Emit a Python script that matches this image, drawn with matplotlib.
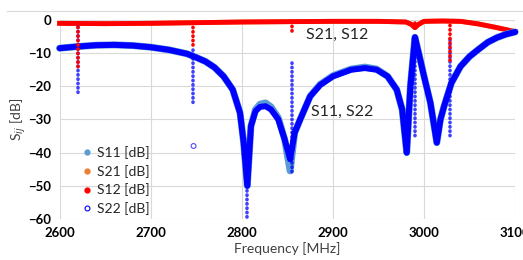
import numpy as np
import matplotlib
matplotlib.use("Agg")
from matplotlib import pyplot as plt
from matplotlib.lines import Line2D

plt.rcParams['font.family'] = ['Lato', 'DejaVu Sans']

# S22 / S11 (dB) vs frequency (MHz)
freq_s22 = [2600, 2620, 2640, 2660, 2680, 2700, 2720, 2740, 2750, 2760, 2770, 2780,
            2790, 2798, 2802, 2806, 2810, 2815, 2820, 2826, 2832, 2840, 2847, 2853,
            2858, 2864, 2875, 2886, 2900, 2920, 2935, 2948, 2960, 2970, 2976, 2981,
            2985, 2990, 2995, 3000, 3007, 3014, 3018, 3022, 3030, 3040, 3050, 3060,
            3070, 3080, 3090, 3100]
s22 = [-8.5, -8.0, -7.6, -7.5, -7.7, -8.2, -9.0, -10.2, -11.3, -12.5, -14.3, -17.0,
       -21.0, -28.0, -37.0, -50.0, -32.0, -27.5, -26.2, -26.0, -27.0, -30.0, -36.0, -42.0,
       -34.0, -30.0, -23.0, -19.6, -17.0, -15.0, -14.5, -15.0, -17.0, -21.0, -27.0, -40.0,
       -20.0, -5.2, -11.0, -17.0, -25.0, -37.0, -30.0, -26.0, -19.0, -14.0, -11.0, -8.8,
       -6.7, -5.3, -4.3, -3.6]
s11 = [-8.5, -8.0, -7.6, -7.5, -7.7, -8.2, -9.0, -10.2, -11.3, -12.5, -14.3, -17.0,
       -21.0, -28.0, -37.0, -50.0, -32.0, -27.0, -25.4, -25.0, -26.2, -29.5, -36.0, -45.5,
       -34.0, -30.0, -23.0, -19.4, -16.8, -14.8, -14.2, -14.8, -17.0, -21.0, -27.0, -40.0,
       -20.0, -5.2, -11.0, -17.0, -25.0, -37.0, -30.0, -26.0, -19.0, -14.0, -11.0, -8.8,
       -6.7, -5.3, -4.3, -3.6]

# S12 / S21 (dB)
freq_s12 = [2600, 2650, 2700, 2750, 2800, 2850, 2900, 2950, 2980, 2986, 2990, 2994,
            3000, 3020, 3040, 3060, 3080, 3100]
s12 = [-1.0, -1.1, -1.0, -0.8, -0.6, -0.5, -0.4, -0.4, -0.6, -1.3, -2.3, -1.3,
       -0.4, -0.3, -0.4, -1.2, -2.3, -3.5]

# narrow resonance spikes: frequency, top and bottom of the marker columns
spike_f = [2620, 2746, 2806, 2855, 2990, 3029]
spike_blue_top = [-2, -9, -45, -13, -6, -6]
spike_blue_bot = [-22, -26, -60, -46, -35, -35]
spike_red_top = [-1, -1, -1, -0.5, -1, -0.3]
spike_red_bot = [-15, -8, -1, -4, -2.5, -13]
outlier_f = [2747]
outlier_db = [-38]

xticks = [2600, 2700, 2800, 2900, 3000, 3100]
yticks = [0, -10, -20, -30, -40, -50, -60]

c_s11 = '#5B9BD5'
c_s21 = '#ED7D31'
c_s12 = '#FF0000'
c_s22 = '#0000FF'

fig = plt.figure(figsize=(5.23, 2.6), dpi=100)
ax = fig.add_axes([0.114, 0.158, 0.871, 0.765])

dot = (0, (0.1, 1.1))
ax.vlines(spike_f, spike_blue_top, spike_blue_bot, colors=c_s22, linewidth=2.6,
          linestyles=dot, capstyle='round', zorder=6, alpha=0.75)
ax.vlines(spike_f, spike_red_top, spike_red_bot, colors=c_s12, linewidth=2.6,
          linestyles=dot, capstyle='round', zorder=6)
ax.scatter(outlier_f, outlier_db, s=12, facecolors='none', edgecolors=c_s22,
           linewidths=0.8, alpha=0.7, zorder=2)

ax.plot(freq_s12, s12, color=c_s21, lw=3.5, solid_joinstyle='round', zorder=3)
ax.plot(freq_s12, s12, color=c_s12, lw=3.5, solid_joinstyle='round', zorder=3)
ax.plot(freq_s22, s11, color=c_s11, lw=5.0, solid_joinstyle='round',
        solid_capstyle='round', zorder=4)
ax.plot(freq_s22, s22, color=c_s22, lw=4.3, solid_joinstyle='round',
        solid_capstyle='round', zorder=5)

ax.set_xlim(2600, 3100)
ax.set_ylim(-60, 0)
ax.set_xticks(xticks)
ax.set_yticks(yticks)
ax.tick_params(length=0, pad=6, labelsize=9.5, labelcolor='#000000')
for lab in ax.get_xticklabels() + ax.get_yticklabels():
    lab.set_fontweight('bold')
ax.grid(True, color='#D9D9D9', lw=0.8)
ax.set_axisbelow(True)
for s in ax.spines.values():
    s.set_visible(False)
for c in ax.get_children():
    if isinstance(c, Line2D):
        c.set_clip_on(False)

ax.set_xlabel('Frequency [MHz]', fontsize=10, color='#404040', labelpad=2)
ax.set_ylabel('S$_{ij}$ [dB]', fontsize=10, color='#404040', labelpad=0)

ax.text(2905, -4.5, 'S21, S12', fontsize=11.5, color='#262626', ha='center', va='center')
ax.text(2910, -27.7, 'S11, S22', fontsize=11.5, color='#262626', ha='center', va='center')

handles = [
    Line2D([], [], ls='none', marker='o', ms=3.5, color=c_s11, label='S11 [dB]'),
    Line2D([], [], ls='none', marker='o', ms=3.5, color=c_s21, label='S21 [dB]'),
    Line2D([], [], ls='none', marker='o', ms=3.5, color=c_s12, label='S12 [dB]'),
    Line2D([], [], ls='none', marker='o', ms=3.5, mfc='none', mec=c_s22, mew=0.8,
           label='S22 [dB]'),
]
leg = ax.legend(handles=handles, loc='upper left', bbox_to_anchor=(0.03, 0.395),
                frameon=False, fontsize=10, handletextpad=0.1, labelspacing=0.42,
                handlelength=1.2, borderaxespad=0)
for t in leg.get_texts():
    t.set_color('#262626')

fig.add_artist(Line2D([0.013, 1.0], [0.958, 0.958], color='#D9D9D9', lw=0.8))

fig.savefig('out.png', dpi=100)
